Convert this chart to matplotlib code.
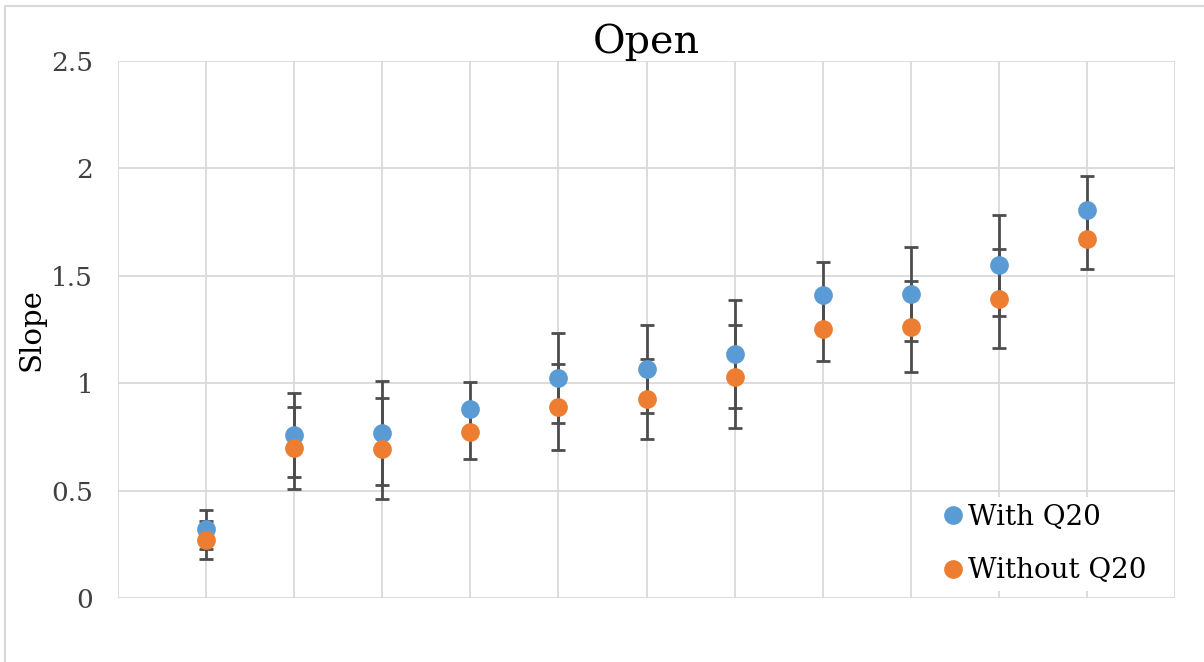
import matplotlib
matplotlib.use("Agg")
import matplotlib.pyplot as plt
from matplotlib.lines import Line2D

# data
x = [1, 2, 3, 4, 5, 6, 7, 8, 9, 10, 11]
with_q20 = [0.32, 0.76, 0.767, 0.88, 1.026, 1.066, 1.136, 1.409, 1.415, 1.549, 1.806]
with_q20_err = [0.09, 0.195, 0.243, 0.127, 0.209, 0.205, 0.25, 0.155, 0.219, 0.236, 0.159]
without_q20 = [0.27, 0.697, 0.694, 0.771, 0.891, 0.926, 1.03, 1.254, 1.262, 1.394, 1.673]
without_q20_err = [0.09, 0.19, 0.235, 0.122, 0.2, 0.188, 0.24, 0.15, 0.212, 0.23, 0.143]

BLUE = "#5B9BD5"
ORANGE = "#ED7D31"
GRID = "#D9D9D9"
ERR = "#4D4D4D"
MS = 13.5

plt.rcParams['font.family'] = ['DejaVu Serif']

fig = plt.figure(figsize=(12.04, 6.62), dpi=100)
ax = fig.add_axes([118 / 1204, 1 - 598 / 662, (1175 - 118) / 1204, (598 - 61) / 662])

# error bars first, markers on top
ax.errorbar(x, with_q20, yerr=with_q20_err, fmt='none', ecolor=ERR,
            elinewidth=2, capsize=4.8, capthick=2, zorder=2)
ax.errorbar(x, without_q20, yerr=without_q20_err, fmt='none', ecolor=ERR,
            elinewidth=2, capsize=4.8, capthick=2, zorder=2)
ax.plot(x, with_q20, 'o', color=BLUE, markersize=MS, markeredgewidth=0, zorder=3)
ax.plot(x, without_q20, 'o', color=ORANGE, markersize=MS, markeredgewidth=0, zorder=4)

ax.set_xlim(0, 12)
ax.set_ylim(0, 2.5)
ax.set_xticks(range(0, 13))
ax.set_yticks([0, 0.5, 1, 1.5, 2, 2.5])
ax.set_yticklabels(["0", "0.5", "1", "1.5", "2", "2.5"])
ax.tick_params(axis='x', length=0, labelbottom=False)
ax.tick_params(axis='y', length=0, labelsize=19, labelcolor="#404040", pad=18)
ax.grid(True, color=GRID, linewidth=1.3, zorder=0)
ax.set_axisbelow(True)
for s in ax.spines.values():
    s.set_visible(False)

ax.set_title("Open", fontsize=28.5, pad=6)
ax.set_ylabel("Slope", fontsize=21, labelpad=4)

handles = [Line2D([], [], marker='o', linestyle='none', color=BLUE, markersize=MS, markeredgewidth=0),
           Line2D([], [], marker='o', linestyle='none', color=ORANGE, markersize=MS, markeredgewidth=0)]
leg = ax.legend(handles, ["With Q20", "Without Q20"], loc='upper left',
                bbox_to_anchor=(0.7755, 0.188), fontsize=20, frameon=True,
                fancybox=False, framealpha=1, edgecolor='none', facecolor='white',
                handlelength=0.6, handletextpad=0.24, labelspacing=0.95,
                borderpad=0.25, borderaxespad=0)
leg.set_zorder(5)

# outer chart frame
fig.add_artist(Line2D([5 / 1204, 5 / 1204, 1.0], [0.0, 1 - 6 / 662, 1 - 6 / 662],
                      transform=fig.transFigure, color=GRID, linewidth=1.5))

fig.savefig("out.png", dpi=100)
